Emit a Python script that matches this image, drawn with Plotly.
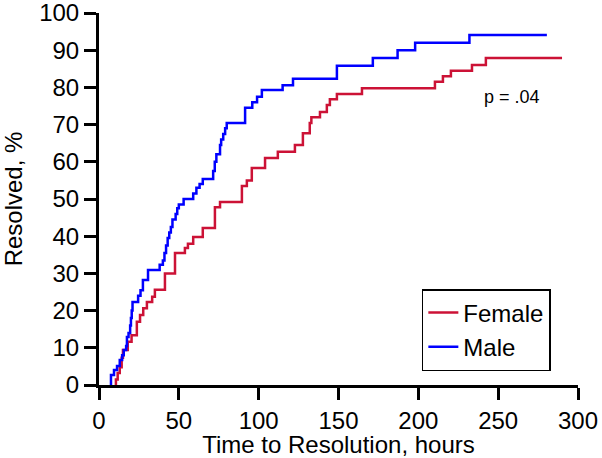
import plotly.graph_objects as go

# cumulative % resolved (time in hours, pct after each step)
male_time = [7.5, 9.4, 11.3, 13, 14.5, 15.5, 17, 17.5, 18.5, 19.5, 20, 20.5, 21, 24.5, 26, 27.5,
             30.7, 38, 40, 41, 42, 43, 44, 45, 46, 48, 49, 50, 53, 59, 61, 63, 65,
             71.5, 72.5, 73.5, 75.8, 76.5, 77.8, 79, 80, 91.5, 96, 99, 102, 115, 121.5,
             149, 171.5, 187, 198, 232]
male_pct = [2.7, 4, 5.1, 6.7, 8, 9.4, 10.5, 12.9, 14, 16, 18, 20, 22.3, 24, 25.5, 28.2,
            30.9, 32.3, 33.5, 35.5, 37.5, 39.5, 41, 42.5, 44.5, 46, 47.5, 48.5, 50, 51.5, 53, 54, 55.4,
            57.5, 60, 62, 64.5, 66, 67.5, 69, 70.4, 74.5, 76, 77.5, 79.3, 80.6, 82.3,
            85.8, 87.9, 90, 92, 94.1]
male_end = 280.5

female_time = [10.6, 11.7, 13, 14.2, 15, 18, 20.4, 23.7, 25.7, 27.7, 30, 33.3, 35,
               41.3, 47.6, 53.8, 55.7, 59, 65, 72.6, 75.8, 89.5, 92.6, 95.7, 104, 112,
               122.7, 127.7, 132, 133, 138.4, 142.7, 144.6, 149, 164.7, 210.4, 215.4,
               220.4, 233.6, 242.3]
female_pct = [1.5, 3.2, 4.8, 7.3, 9.4, 11.6, 13.4, 17, 18.8, 20.6, 22.3, 23.7, 25.6,
              30, 35.5, 36.8, 38, 39.8, 42.2, 47.8, 49.2, 53.5, 55, 58.3, 61, 62.7,
              64.5, 67.7, 70.4, 72, 73.4, 75.3, 76.8, 78.2, 79.8, 81.5, 83,
              84.5, 86, 87.9]
female_end = 290

fig = go.Figure()
fig.add_trace(go.Scatter(x=[female_time[0]] + female_time + [female_end],
                         y=[0] + female_pct + [female_pct[-1]],
                         mode="lines", line_shape="hv", name="Female",
                         line=dict(color="#CC1236", width=2.5)))
fig.add_trace(go.Scatter(x=[male_time[0]] + male_time + [male_end],
                         y=[0] + male_pct + [male_pct[-1]],
                         mode="lines", line_shape="hv", name="Male",
                         line=dict(color="#0000FF", width=2.5)))

fig.add_annotation(x=240, y=77.5, text="p = .04", showarrow=False,
                   xanchor="left", yanchor="middle", font=dict(size=18, color="black"))

axis_style = dict(showline=True, linewidth=3, linecolor="black", ticks="outside",
                  ticklen=12, tickwidth=3, tickcolor="black", showgrid=False,
                  zeroline=False, tickfont=dict(size=24, color="black"),
                  ticklabeloverflow="allow")

fig.update_xaxes(range=[0, 300], dtick=50, automargin=True,
                 title=dict(text="Time to Resolution, hours",
                            font=dict(size=24, color="black"), standoff=2), **axis_style)
fig.update_yaxes(range=[0, 100], dtick=10, title=dict(text="Resolved, %",
                 font=dict(size=24, color="black"), standoff=14), **axis_style)

fig.update_layout(width=602, height=458, plot_bgcolor="white", paper_bgcolor="white",
                  font=dict(family="Liberation Sans, Arial, sans-serif", color="black"),
                  margin=dict(l=99, r=24, t=13, b=73, autoexpand=False),
                  legend=dict(x=0.674, y=0.258, xanchor="left", yanchor="top",
                              bordercolor="black", borderwidth=1.5, bgcolor="white",
                              font=dict(size=24), itemwidth=30, tracegroupgap=0))

# drop the browser's default 8px body margin so the figure sits at the page corner
fig.write_html("out.html", config={"displayModeBar": False},
               post_script="document.body.style.margin='0';")
